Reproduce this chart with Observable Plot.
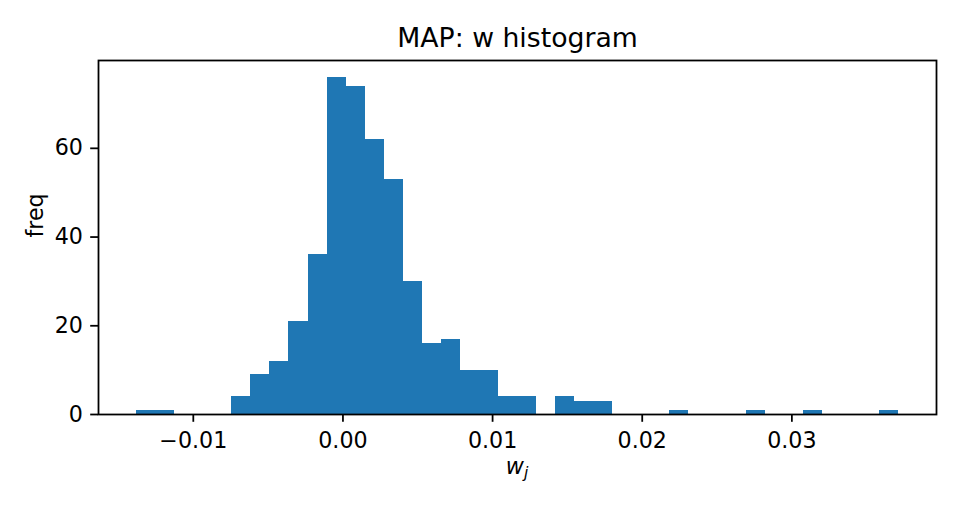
<!DOCTYPE html>
<html><head><meta charset="utf-8">
<script src="https://cdn.jsdelivr.net/npm/d3@7"></script>
<script src="https://cdn.jsdelivr.net/npm/@observablehq/plot@0.6"></script>
<style>
  html,body{margin:0;padding:0;background:#fff;}
  #chart svg{font-family:"DejaVu Sans",sans-serif;display:block;}
</style>
</head><body><div id="chart"></div>
<script>
// histogram: 40 equal bins between binMin and binMax
const counts = [1,1,0,0,0,4,9,12,21,36,76,74,62,53,30,16,17,10,10,4,4,0,4,3,3,0,0,0,1,0,0,0,1,0,0,1,0,0,0,1];
const binMin = -0.01379;
const binMax = 0.03712;
const xTicks = [-0.01, 0, 0.01, 0.02, 0.03];
const yTicks = [0, 20, 40, 60];
const titleText = "MAP: w histogram";
const yLabel = "freq";

const nBins = counts.length;
const bw = (binMax - binMin) / nBins;
const bins = counts.map((c, i) => ({x1: binMin + i * bw, x2: binMin + (i + 1) * bw, count: c}));
const span = binMax - binMin;
const xDomain = [binMin - 0.05 * span, binMax + 0.05 * span];
const yDomain = [0, d3.max(counts) * 1.05];

const W = 960, H = 512;
const mL = 98, mR = 24, mT = 60, mB = 98;
const fs = 22.2, lw = 1.78, tick = 7.8;

const plot = Plot.plot({
  width: W, height: H,
  marginLeft: mL, marginRight: mR, marginTop: mT, marginBottom: mB,
  style: {fontFamily: "DejaVu Sans", background: "#fff", color: "#000", overflow: "visible"},
  x: {domain: xDomain, label: null},
  y: {domain: yDomain, label: null},
  marks: [
    Plot.rect(bins.filter(d => d.count > 0), {x1: "x1", x2: "x2", y1: 0, y2: "count", fill: "#1f77b4", inset: 0, shapeRendering: "crispEdges"}),
    Plot.axisX({ticks: xTicks, tickFormat: d3.format(".2f"), tickSize: tick, tickPadding: 9.5, fontSize: fs, strokeWidth: lw, label: null}),
    Plot.axisY({ticks: yTicks, tickFormat: d3.format("d"), tickSize: tick, tickPadding: 7.8, fontSize: fs, strokeWidth: lw, label: null}),
    Plot.frame({stroke: "#000", strokeWidth: lw}),
    Plot.text([titleText], {frameAnchor: "top", lineAnchor: "middle", dy: -22.5, fontSize: 26.7, fill: "#000"}),
    Plot.text([yLabel], {frameAnchor: "left", lineAnchor: "middle", rotate: -90, dx: -63, fontSize: fs, fill: "#000"})
  ]
});
document.getElementById("chart").appendChild(plot);

// x label w_j (math-style with subscript)
const xr = plot.scale("x").range;
const svg = d3.select(plot);
const lab = svg.append("text")
  .attr("x", (xr[0] + xr[1]) / 2)
  .attr("y", 474)
  .attr("text-anchor", "middle")
  .attr("font-size", fs)
  .attr("font-family", "DejaVu Sans")
  .attr("font-style", "italic")
  .attr("fill", "#000");
lab.append("tspan").text("w");
lab.append("tspan").attr("font-size", fs * 0.7).attr("dy", fs * 0.2).text("j");
</script>
</body></html>
